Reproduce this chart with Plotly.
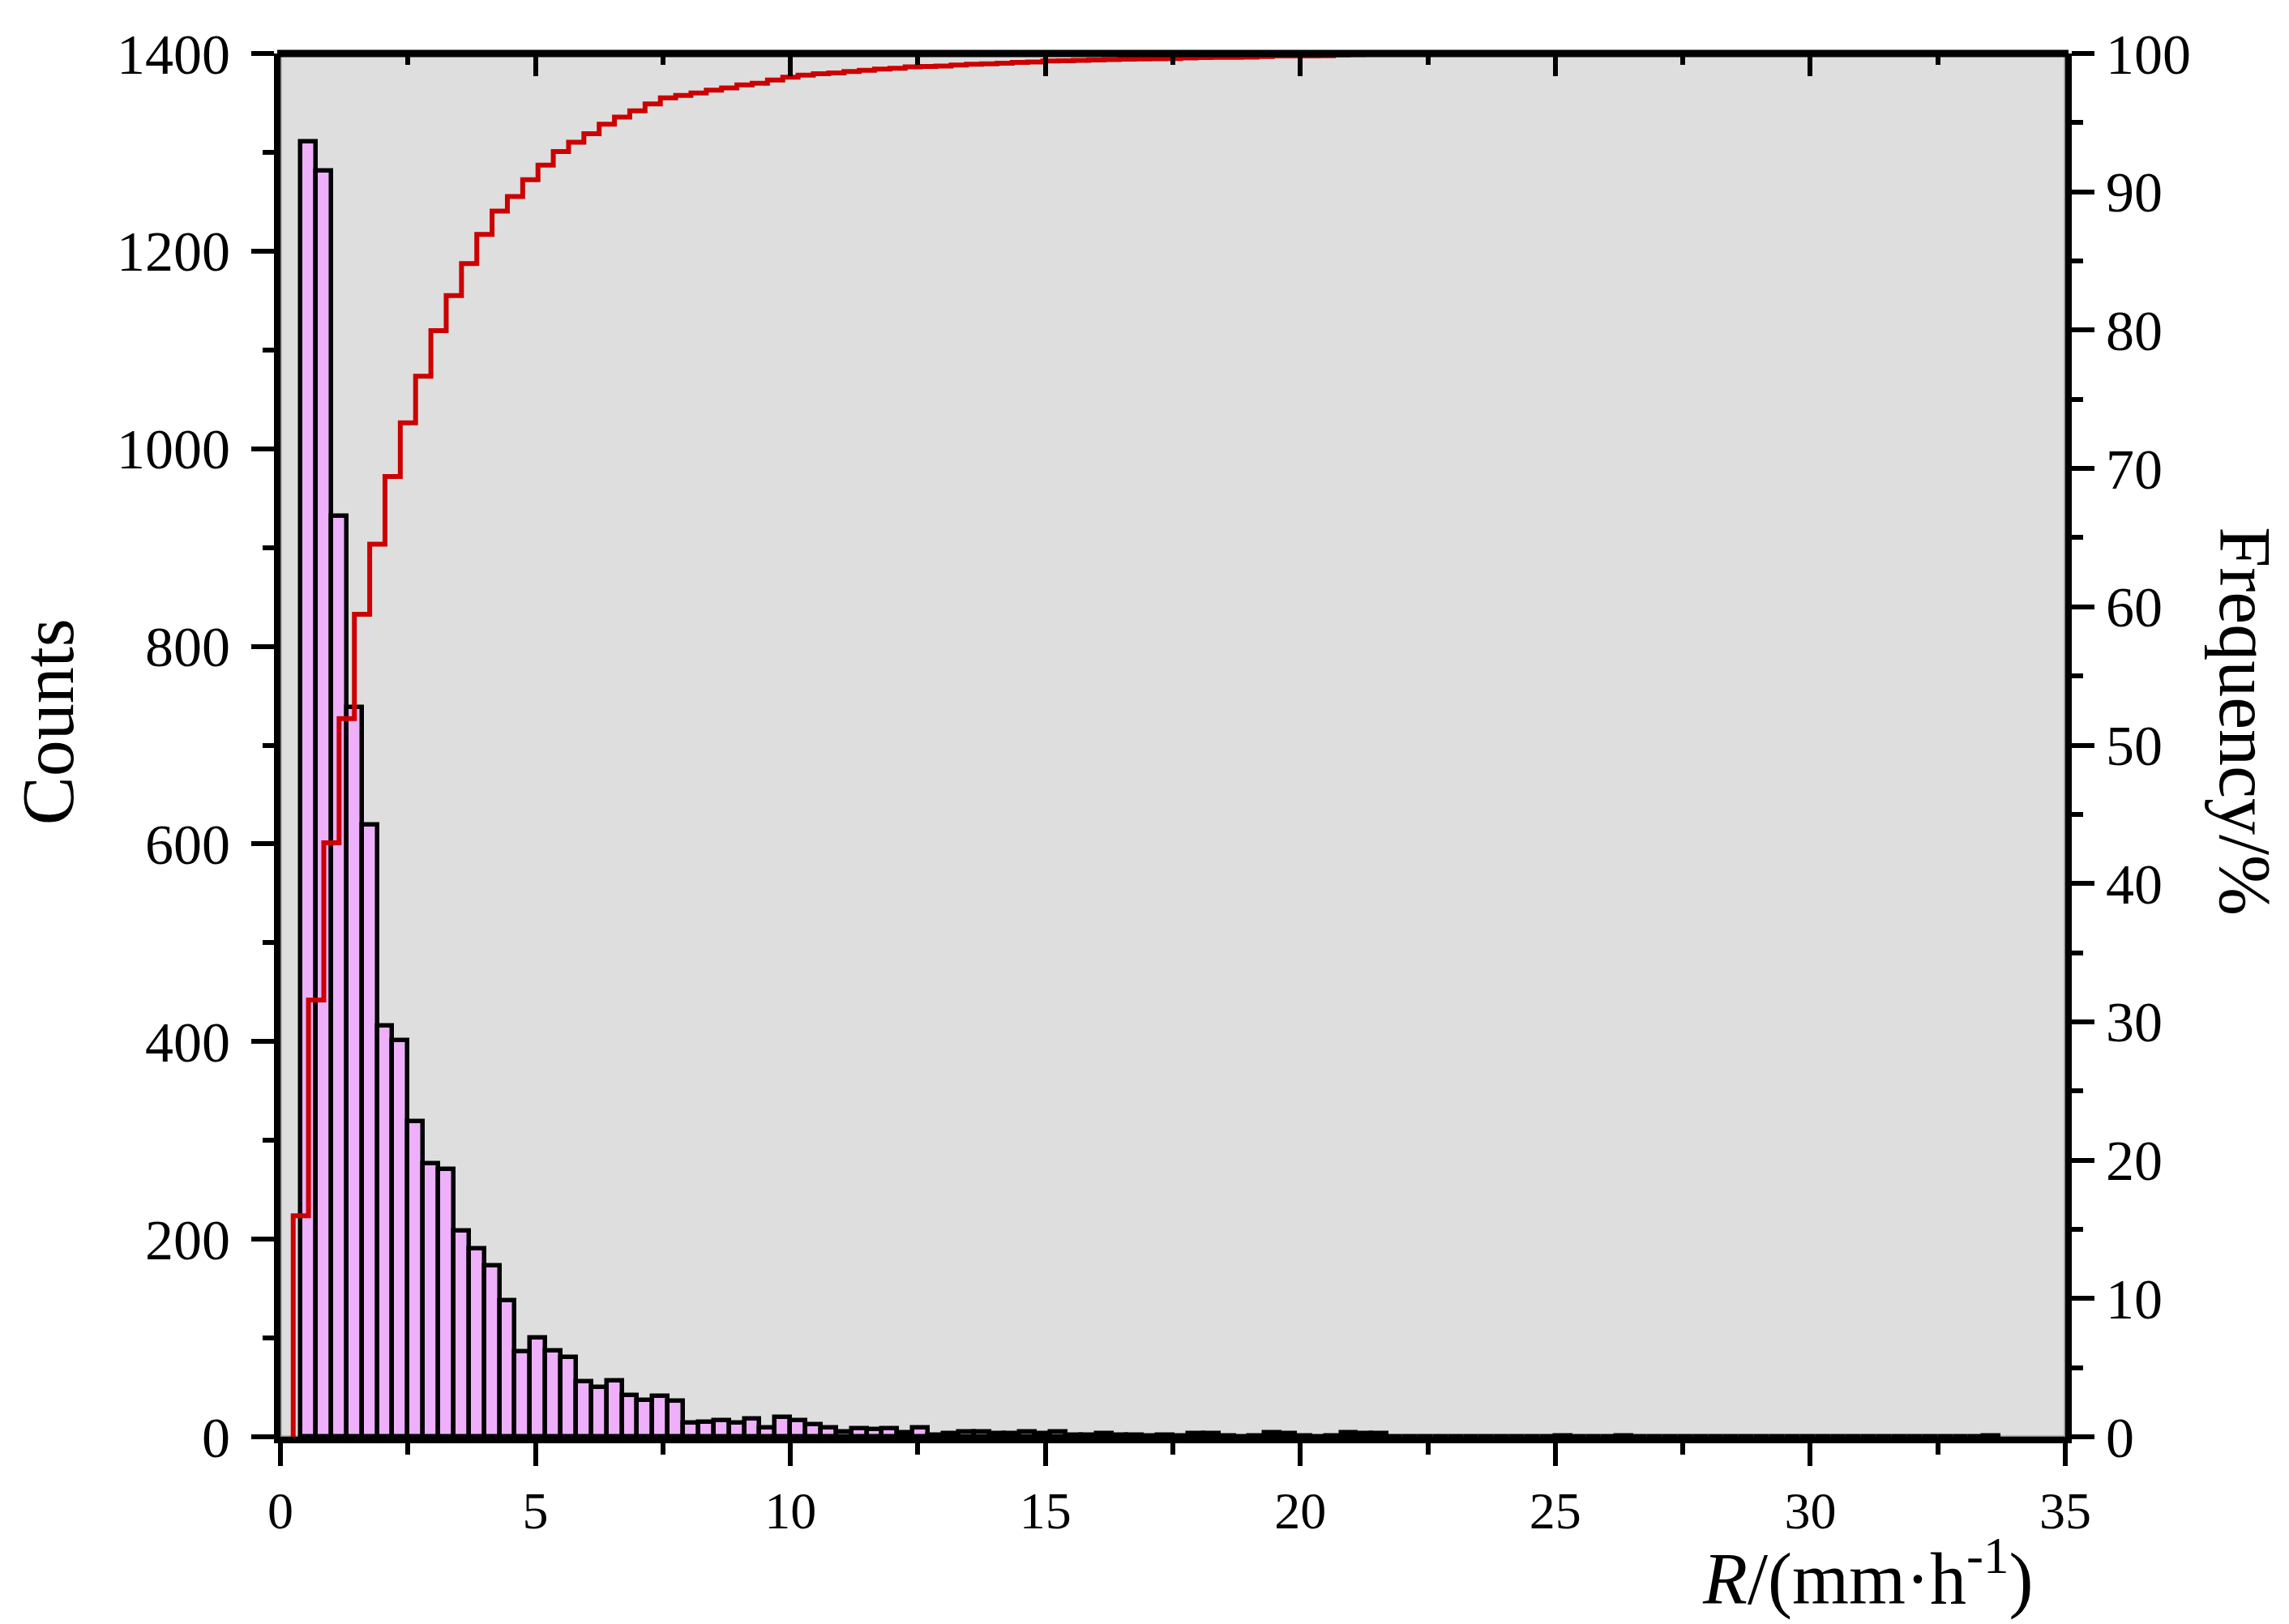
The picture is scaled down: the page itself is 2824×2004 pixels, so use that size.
import plotly.graph_objects as go

# ---- data ----
bin_start = 0.4      # left edge of first bin (mm/h)
bin_width = 0.3      # bin width (mm/h)
counts = [
    1311, 1281, 932, 738, 619, 416, 401, 319, 276, 271,
    208, 190, 173, 138, 86, 100, 87, 80, 56, 50,
    57, 42, 37, 41, 36, 14, 15, 16, 14, 18,
    9, 20, 16, 12, 9, 5, 8, 7, 8, 4,
    9, 2, 3, 5, 5, 3, 3, 5, 3, 5,
    2, 2, 3, 2, 2, 1, 2, 1, 3, 3,
    1, 0, 1, 4, 3, 1, 0, 1, 4, 3,
    3, 0, 0, 0, 0, 0, 0, 0, 0, 0,
    0, 0, 1, 0, 0, 0, 1, 0, 0, 0,
    0, 0, 0, 0, 0, 0, 0, 0, 0, 0,
    0, 0, 0, 0, 0, 0, 0, 0, 0, 0,
    1,
]
x_ticks = [0, 5, 10, 15, 20, 25, 30, 35]
y_ticks = [0, 200, 400, 600, 800, 1000, 1200, 1400]
y2_ticks = [0, 10, 20, 30, 40, 50, 60, 70, 80, 90, 100]

# ---- derived ----
n = len(counts)
lefts = [bin_start + bin_width * i for i in range(n)]
centers = [l + bin_width / 2 for l in lefts]
total = float(sum(counts))
cum = []
s = 0
for c in counts:
    s += c
    cum.append(100.0 * s / total)
# cumulative step line: rises at (bin centre - one bin width)
step_x = [lefts[0] - bin_width / 2] + [l - bin_width / 2 for l in lefts]
step_y = [0.0] + cum

FONT = "Liberation Serif"
XTICK_SIZE = 64
YTICK_SIZE = 70
TITLE_SIZE = 90

fig = go.Figure()
fig.add_trace(go.Bar(
    x=centers, y=counts, width=bin_width,
    marker=dict(color="#EEB0FA", line=dict(color="black", width=5.5)),
    showlegend=False, xaxis="x", yaxis="y",
))
fig.add_trace(go.Scatter(
    x=step_x, y=step_y, mode="lines", line=dict(color="#CC0000", width=6, shape="hv"),
    showlegend=False, xaxis="x", yaxis="y2",
))
# dummy trace so the top axis is drawn
fig.add_trace(go.Scatter(x=[None], y=[None], xaxis="x2", yaxis="y", showlegend=False))

axis_common = dict(
    showgrid=False, zeroline=False, showline=True, linecolor="black", tickcolor="black",
)

fig.update_layout(
    width=2824, height=2004,
    margin=dict(l=338, r=284, t=58, b=239),
    paper_bgcolor="white", plot_bgcolor="#DEDEDE",
    bargap=0,
    xaxis=dict(
        **axis_common, range=[0, 35], tickvals=x_ticks, ticks="outside",
        tickfont=dict(family=FONT, size=XTICK_SIZE, color="black"),
        ticklen=28, tickwidth=6, linewidth=8,
        minor=dict(dtick=2.5, tick0=0, ticks="outside", ticklen=14, tickwidth=6, tickcolor="black"),
    ),
    xaxis2=dict(
        showgrid=False, zeroline=False, showline=False,
        overlaying="x", side="top", range=[0, 35], tickvals=x_ticks, ticks="inside",
        ticklen=28, tickwidth=6, tickcolor="black", showticklabels=False,
        minor=dict(dtick=2.5, tick0=0, ticks="inside", ticklen=14, tickwidth=6, tickcolor="black"),
    ),
    yaxis=dict(
        **axis_common, range=[0, 1400], tickvals=y_ticks, ticks="outside",
        tickfont=dict(family=FONT, size=YTICK_SIZE, color="black"),
        ticklen=28, tickwidth=6, linewidth=8, ticklabelstandoff=12,
        minor=dict(dtick=100, tick0=0, ticks="outside", ticklen=14, tickwidth=6, tickcolor="black"),
    ),
    yaxis2=dict(
        **axis_common, overlaying="y", side="right", range=[0, 100], tickvals=y2_ticks,
        tickfont=dict(family=FONT, size=YTICK_SIZE, color="black"),
        ticks="outside", ticklen=28, tickwidth=6, linewidth=8,
        minor=dict(dtick=5, tick0=0, ticks="outside", ticklen=14, tickwidth=6, tickcolor="black"),
    ),
    shapes=[
        # thin grey frame of the plotting area
        dict(type="rect", xref="paper", yref="paper", x0=0, x1=1, y0=0, y1=1,
             line=dict(color="#888888", width=3), layer="below"),
        # top border line, drawn over the data like the reference's axis
        dict(type="line", xref="paper", yref="paper", x0=-0.0018, x1=1.0018, y0=1, y1=1,
             line=dict(color="black", width=9), layer="above"),
    ],
    annotations=[
        dict(text="Counts", xref="paper", yref="paper", x=-0.13, y=0.517,
             textangle=-90, showarrow=False, xanchor="center", yanchor="middle",
             font=dict(family=FONT, size=TITLE_SIZE, color="black")),
        dict(text="Frequency/%", xref="paper", yref="paper", x=1.1005, y=0.517,
             textangle=90, showarrow=False, xanchor="center", yanchor="middle",
             font=dict(family=FONT, size=TITLE_SIZE, color="black")),
        dict(text="<i>R</i>/(mm·h<sup>-1</sup>)", xref="paper", yref="paper", x=0.889, y=-0.099,
             showarrow=False, xanchor="center", yanchor="middle",
             font=dict(family=FONT, size=TITLE_SIZE, color="black")),
    ],
)

fig.write_html("out.html")
